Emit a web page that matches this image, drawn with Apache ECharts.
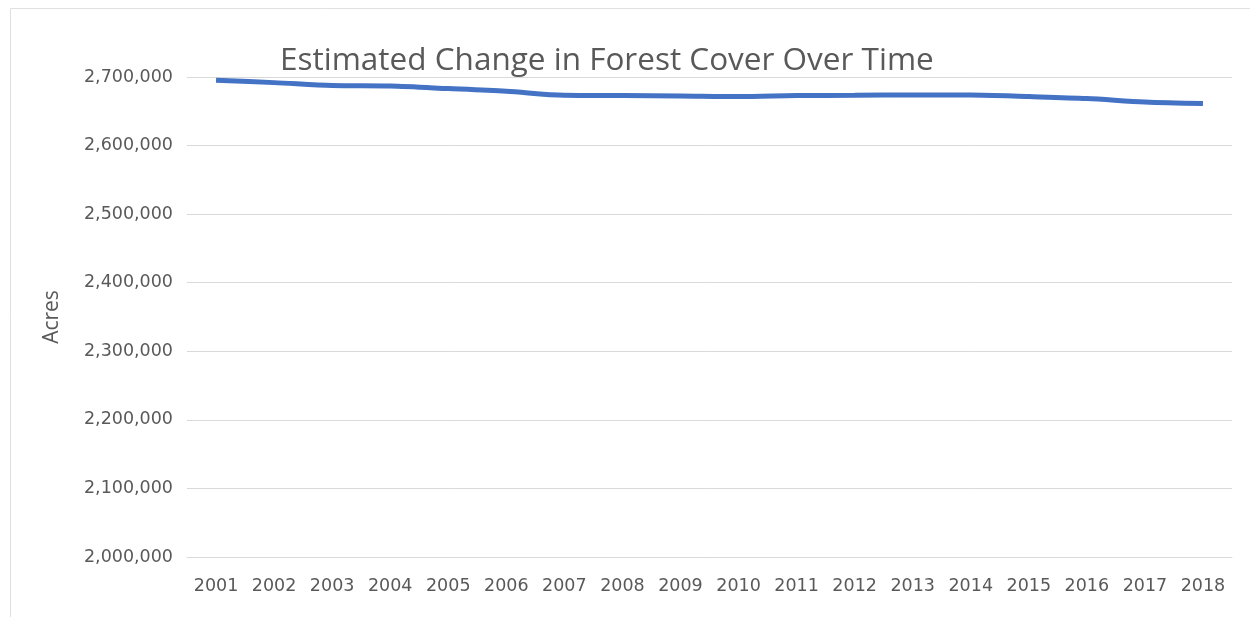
<!DOCTYPE html>
<html>
<head>
<meta charset="utf-8">
<style>
html,body{margin:0;padding:0;background:#fff;}
#chart{width:1250px;height:617px;}
</style>
<script src="https://cdn.jsdelivr.net/npm/echarts@6/dist/echarts.min.js"></script>
</head>
<body>
<div id="chart"></div>
<script>
const titleText = 'Estimated Change in Forest Cover Over Time';
const yAxisName = 'Acres';
const years = ['2001','2002','2003','2004','2005','2006','2007','2008','2009','2010','2011','2012','2013','2014','2015','2016','2017','2018'];
const acres = [2695200,2691800,2687500,2686700,2683100,2679100,2673300,2672900,2672300,2671400,2672900,2673300,2673800,2673800,2671400,2668500,2663500,2661200];
const yMin = 2000000, yMax = 2700000, yStep = 100000;

const chart = echarts.init(document.getElementById('chart'), null, {renderer:'canvas'});
const txt = '#595959';
chart.setOption({
  backgroundColor:'#ffffff',
  animation:false,
  title:{
    text:titleText,
    left:275, top:40,
    textStyle:{fontFamily:'Open Sans', fontSize:31.5, fontWeight:'normal', color:txt}
  },
  graphic:[{
    type:'rect', silent:true, z:-1,
    shape:{x:10.5, y:8.5, width:1260, height:640},
    style:{fill:'none', stroke:'#e0e0e0', lineWidth:1}
  }],
  grid:{left:187, right:18, top:77, bottom:60, containLabel:false},
  xAxis:{
    type:'category', data:years, boundaryGap:true,
    axisLine:{show:true, lineStyle:{color:'#d9d9d9', width:1}},
    axisTick:{show:false},
    axisLabel:{color:txt, fontFamily:'DejaVu Sans', fontSize:17.5, margin:20}
  },
  yAxis:{
    type:'value', min:yMin, max:yMax, interval:yStep,
    name:yAxisName, nameLocation:'middle', nameGap:124, nameRotate:90,
    nameTextStyle:{color:txt, fontFamily:'Open Sans', fontSize:21},
    axisLine:{show:false}, axisTick:{show:false},
    splitLine:{lineStyle:{color:'#d9d9d9', width:1}},
    axisLabel:{color:txt, fontFamily:'DejaVu Sans', fontSize:17.5, margin:14,
      formatter:v=>v.toLocaleString('en-US')}
  },
  series:[{
    type:'line', data:acres, smooth:0.3, symbol:'none',
    lineStyle:{color:'#4472C4', width:5}
  }]
});
</script>
</body>
</html>
